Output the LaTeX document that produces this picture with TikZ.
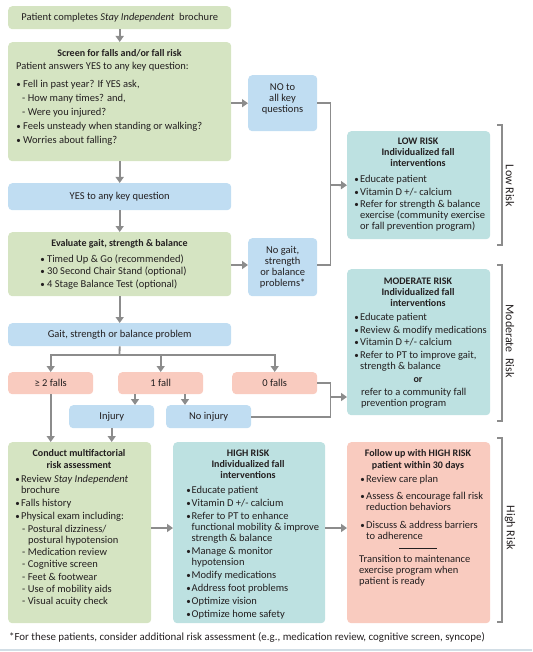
\documentclass[tikz,border=0pt]{standalone}
\usepackage{fontspec}
\setmainfont{Carlito}
\usetikzlibrary{arrows.meta}
\definecolor{cgreen}{RGB}{213,228,194}
\definecolor{cblue}{RGB}{192,221,242}
\definecolor{cteal}{RGB}{189,225,225}
\definecolor{cpink}{RGB}{249,203,191}
\definecolor{cline}{RGB}{140,140,140}
\definecolor{cbottom}{RGB}{210,222,230}
\definecolor{ctext}{RGB}{35,31,32}
\newcommand\fs{\fontsize{10.5}{11}\selectfont}
\newcommand\fb{\fontsize{10}{11.3}\selectfont\bfseries}
\newcommand\bul[1][6pt]{\makebox[#1][l]{\hspace*{-0.8pt}\fontsize{9}{9}\selectfont•}}
\newcommand\ind[1][6pt]{\hspace*{#1}}
\begin{document}
\begin{tikzpicture}[x=1pt,y=-1pt,
  box/.style={draw=none, rounded corners=4pt, inner sep=0pt, anchor=north west},
  gbox/.style={box, fill=cgreen},
  bbox/.style={box, fill=cblue},
  tbox/.style={box, fill=cteal},
  pbox/.style={box, fill=cpink},
  txt/.style={inner sep=0pt, text=ctext, font=\fs},
  ltxt/.style={txt, align=left, anchor=north west},
  ctxt/.style={txt, align=center},
  btxt/.style={txt, align=center, anchor=north, font=\fb},
  ln/.style={draw=cline, line width=1.8pt},
  arr/.style={ln, -{Triangle[width=8pt,length=6pt]}},
  brk/.style={draw=cline, line width=1.2pt},
  rtxt/.style={txt, rotate=-90, font=\fontsize{12}{12}\selectfont}]
\useasboundingbox (0,0) rectangle (532,652);

% boxes
\node[gbox, minimum width=223pt, minimum height=23pt] (start) at (8,6) {};
\node[gbox, minimum width=223pt, minimum height=119pt] (screen) at (8,42) {};
\node[bbox, minimum width=223pt, minimum height=27pt] (yes) at (8,183) {};
\node[gbox, minimum width=223pt, minimum height=64pt] (eval) at (8,232) {};
\node[bbox, minimum width=223pt, minimum height=23pt] (gait) at (8,323) {};
\node[bbox, minimum width=69pt, minimum height=56pt] (no) at (248,75) {};
\node[bbox, minimum width=69pt, minimum height=58pt] (nogait) at (248,238) {};
\node[tbox, minimum width=143pt, minimum height=108pt] (low) at (347,131) {};
\node[tbox, minimum width=143pt, minimum height=146pt] (mod) at (347,269) {};
\node[pbox, minimum width=85pt, minimum height=22pt] (two) at (8,372) {};
\node[pbox, minimum width=85pt, minimum height=22pt] (one) at (118,372) {};
\node[pbox, minimum width=85pt, minimum height=22pt] (zero) at (232,372) {};
\node[bbox, minimum width=85pt, minimum height=23pt] (inj) at (69,405) {};
\node[bbox, minimum width=85pt, minimum height=23pt] (noinj) at (166,405) {};
\node[gbox, minimum width=143pt, minimum height=181pt] (conduct) at (8,442) {};
\node[tbox, minimum width=152pt, minimum height=181pt] (high) at (173,442) {};
\node[pbox, minimum width=143pt, minimum height=181pt] (follow) at (347,442) {};

% texts
\node[ctxt] (startt) at (start.center) {Patient completes \textit{Stay Independent}\ \ brochure};
\node[btxt] (screent) at (119.5,49.5) {Screen for falls and/or fall risk};
\node[ltxt] (screenb) at (16,62.5) {Patient answers YES to any key question:\\[7pt]
\ind[1pt]\bul Fell in past year? If YES ask,\\[3pt]
\ind[6pt]- How many times? and,\\[3pt]
\ind[6pt]- Were you injured?\\[3pt]
\ind[1pt]\bul Feels unsteady when standing or walking?\\[3pt]
\ind[1pt]\bul Worries about falling?};
\node[ctxt] (yest) at (yes.center) {YES to any key question};
\node[btxt] (evalt) at (119.5,239.5) {Evaluate gait, strength \& balance};
\node[ltxt] (evalb) at (41,254.5) {\bul Timed Up \& Go (recommended)\\[1.5pt]
\bul 30 Second Chair Stand (optional)\\[1.5pt]
\bul 4 Stage Balance Test (optional)};
\node[ctxt] (gaitt) at (gait.center) {Gait, strength or balance problem};
\node[ctxt] (not) at (282.5,99) {NO to\\all key\\questions};
\node[ctxt] (nogaitt) at (nogait.center) {No gait,\\strength\\or balance\\problems*};

\node[btxt] (lowt) at (418,137.5) {LOW RISK\\Individualized fall\\interventions};
\node[ltxt] (lowb) at (355,175.5) {\bul[5pt]Educate patient\\[1.5pt]
\bul[5pt]Vitamin D +/- calcium\\[1.5pt]
\bul[5pt]Refer for strength \& balance\\
\ind[5pt]exercise (community exercise\\
\ind[5pt]or fall prevention program)};

\node[btxt] (modt) at (418,277.5) {MODERATE RISK\\Individualized fall\\interventions};
\node[ltxt] (modb) at (355,313.5) {\bul[5pt]Educate patient\\[1.5pt]
\bul[5pt]Review \& modify medications\\[1.5pt]
\bul[5pt]Vitamin D +/- calcium\\[1.5pt]
\bul[5pt]Refer to PT to improve gait,\\
\ind[5pt]strength \& balance};
\node[ctxt, font=\fb] (modor) at (418,380) {or};
\node[ltxt] (modc) at (361,388.5) {refer to a community fall\\prevention program};

\node[ctxt] (twot) at (two.center) {≥ 2 falls};
\node[ctxt] (onet) at (one.center) {1 fall};
\node[ctxt] (zerot) at (zero.center) {0 falls};
\node[ctxt] (injt) at (inj.center) {Injury};
\node[ctxt] (noinjt) at (noinj.center) {No injury};

\node[btxt] (conductt) at (79,449.5) {Conduct multifactorial\\risk assessment};
\node[ltxt] (conductb) at (16,475.5) {\bul[5pt]Review \textit{Stay Independent}\\
\ind[5pt]brochure\\[2pt]
\bul[5pt]Falls history\\[2pt]
\bul[5pt]Physical exam including:\\[1.3pt]
\ind[6pt]- Postural dizziness/\\
\ind[12pt]postural hypotension\\[1.3pt]
\ind[6pt]- Medication review\\[1.3pt]
\ind[6pt]- Cognitive screen\\[1.3pt]
\ind[6pt]- Feet \& footwear\\[1.3pt]
\ind[6pt]- Use of mobility aids\\[1.3pt]
\ind[6pt]- Visual acuity check};

\node[btxt] (hight) at (248,449.5) {HIGH RISK\\Individualized fall\\interventions};
\node[ltxt] (highb) at (187,486.5) {\bul[4.5pt]Educate patient\\[2pt]
\bul[4.5pt]Vitamin D +/- calcium\\[2pt]
\bul[4.5pt]Refer to PT to enhance\\
\ind[4.5pt]functional mobility \& improve\\
\ind[4.5pt]strength \& balance\\[2pt]
\bul[4.5pt]Manage \& monitor\\
\ind[4.5pt]hypotension\\[2pt]
\bul[4.5pt]Modify medications\\[2pt]
\bul[4.5pt]Address foot problems\\[2pt]
\bul[4.5pt]Optimize vision\\[2pt]
\bul[4.5pt]Optimize home safety};

\node[btxt] (followt) at (418,449.5) {Follow up with HIGH RISK\\patient within 30 days};
\node[ltxt] (followb) at (361,475.5) {\bul[5pt]Review care plan\\[6pt]
\bul[5pt]Assess \& encourage fall risk\\
\ind[5pt]reduction behaviors\\[7pt]
\bul[5pt]Discuss \& address barriers\\
\ind[5pt]to adherence};
\coordinate (sepl) at (399,548);
\coordinate (sepr) at (437,548);
\draw[ctext, line width=0.8pt] (sepl) -- (sepr);
\node[ltxt] (followc) at (359,555.5) {Transition to maintenance\\exercise program when\\patient is ready};

\node[txt, anchor=west, font=\fontsize{10.9}{11}\selectfont] (foot) at (9,637) {*For these patients, consider additional risk assessment (e.g., medication review, cognitive screen, syncope)};

% connectors
\draw[arr] (start.south) -- (screen.north);
\draw[arr] (screen.south) -- (yes.north);
\draw[arr] (yes.south) -- (eval.north);
\draw[arr] (eval.south) -- (gait.north);
\draw[arr] (screen.east |- no.west) -- (no.west);
\coordinate (ev) at (0,265);
\draw[arr] (eval.east |- ev) -- (nogait.west |- ev);
\coordinate (jl) at (330.5,185);
\draw[ln] (no.east) -| (jl);
\draw[ln] (nogait.east |- ev) -| (jl);
\draw[arr] (jl) -- (low.west);

\coordinate (gs) at (119.5,355);
\draw[ln] (gait.south) -- (gs);
\draw[arr] (gs) -| (two.north);
\draw[arr] (gs) -| (one.north);
\draw[arr] (gs) -| (zero.north);
\coordinate (c1) at (135,400);
\coordinate (c2) at (185,400);
\draw[arr] (c1 |- one.south) -- (c1 |- inj.north);
\draw[arr] (c2 |- one.south) -- (c2 |- noinj.north);
\coordinate (jm) at (330.5,397);
\draw[ln] (zero.east) -| (jm);
\draw[ln] (noinj.east) -| (jm);
\draw[arr] (jm) -- (jm -| mod.west);
\draw[arr] (two.south) -- (two.south |- conduct.north);
\draw[arr] (inj.south) -- (inj.south |- conduct.north);
\coordinate (ch) at (0,528);
\draw[arr] (conduct.east |- ch) -- (high.west |- ch);
\draw[arr] (high.east |- ch) -- (follow.west |- ch);

% brackets
\coordinate (b1a) at (497,125); \coordinate (b1b) at (497,245);
\coordinate (b2a) at (497,265); \coordinate (b2b) at (497,421);
\coordinate (b3a) at (497,438); \coordinate (b3b) at (497,622);
\draw[brk] (b1a) -- ++(5,0) |- (b1b);
\draw[brk] (b2a) -- ++(5,0) |- (b2b);
\draw[brk] (b3a) -- ++(5,0) |- (b3b);
\node[rtxt] (lowr) at (510,186) {Low Risk};
\node[rtxt] (modr) at (510,341) {Moderate\ \ Risk};
\node[rtxt] (highr) at (510,528) {High Risk};

\coordinate (bl) at (0,650); \coordinate (br) at (532,650);
\draw[cbottom, line width=2pt] (bl) -- (br);
\end{tikzpicture}
\end{document}
